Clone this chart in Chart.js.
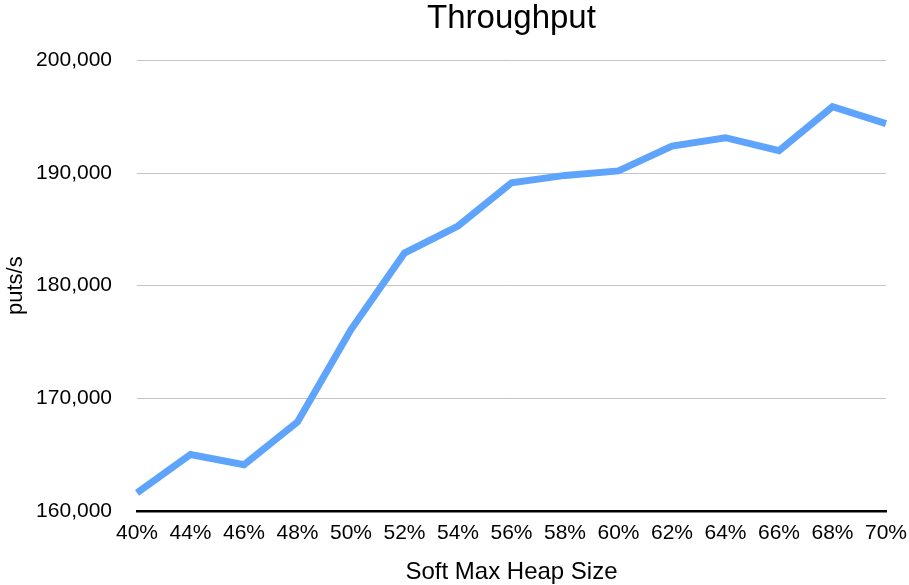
<!DOCTYPE html>
<html>
<head>
<meta charset="utf-8">
<script src="https://cdn.jsdelivr.net/npm/chart.js@4"></script>
<style>
  html, body { margin: 0; padding: 0; background: #fff; }
  #wrap { width: 909px; height: 585px; }
</style>
</head>
<body>
<div id="wrap"><canvas id="throughputChart"></canvas></div>
<script>
const heapSizes = ['40%', '44%', '46%', '48%', '50%', '52%', '54%', '56%', '58%', '60%', '62%', '64%', '66%', '68%', '70%'];
const putsPerSec = [161600, 165000, 164100, 167900, 176100, 182900, 185300, 189150, 189800, 190200, 192400, 193150, 192000, 195900, 194400];

const font = 'Helvetica, Arial, "Liberation Sans", sans-serif';

new Chart(document.getElementById('throughputChart'), {
  type: 'line',
  data: {
    labels: heapSizes,
    datasets: [{
      label: 'Throughput',
      data: putsPerSec,
      borderColor: '#5ea4fc',
      borderWidth: 7,
      pointRadius: 0,
      tension: 0,
      fill: false
    }]
  },
  options: {
    responsive: true,
    maintainAspectRatio: false,
    animation: false,
    layout: { padding: { left: 3, right: 0, top: 0, bottom: 0 } },
    plugins: {
      legend: { display: false },
      tooltip: { enabled: false },
      title: {
        display: true,
        fullSize: false,
        text: 'Throughput',
        color: '#000',
        font: { family: font, size: 33, weight: 'normal' },
        padding: { top: -1, bottom: 22 }
      }
    },
    scales: {
      x: {
        afterFit: (scale) => { scale.paddingRight = 23; },
        grid: { display: false, drawTicks: false },
        border: { display: true, color: '#000', width: 2.5 },
        ticks: { color: '#000', font: { family: font, size: 21 }, maxRotation: 0, autoSkip: false, padding: 10 },
        title: { display: true, text: 'Soft Max Heap Size', color: '#000', font: { family: font, size: 24, lineHeight: 1 }, padding: { top: 4, bottom: 1 } }
      },
      y: {
        min: 160000,
        max: 200000,
        afterFit: (scale) => { scale.width = 134; },
        ticks: { stepSize: 10000, color: '#000', font: { family: font, size: 21 }, padding: 25 },
        grid: { color: '#c4c4c4', lineWidth: 1, drawTicks: false },
        border: { display: false },
        title: { display: true, text: 'puts/s', color: '#000', font: { family: font, size: 22 }, padding: { top: 0, bottom: 0 } }
      }
    }
  }
});
</script>
</body>
</html>
